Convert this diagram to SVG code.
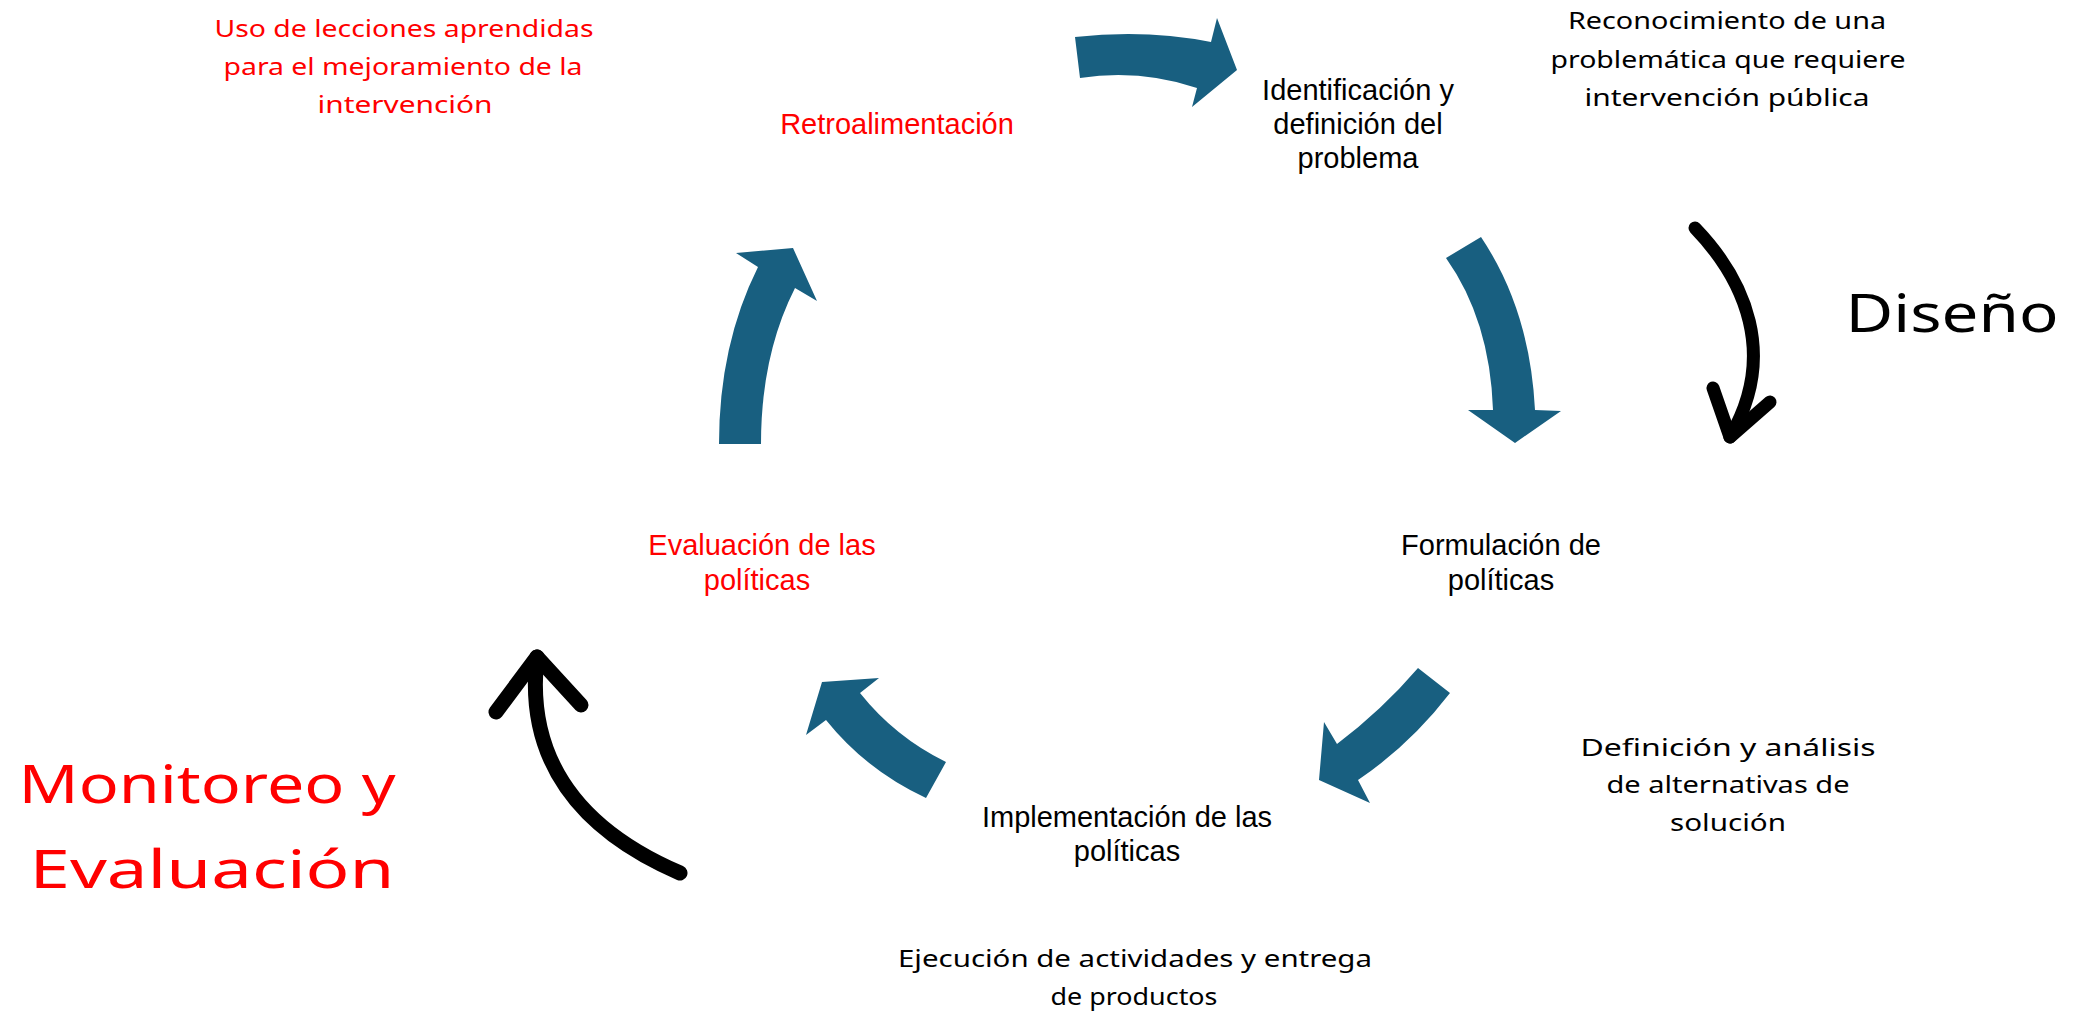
<svg xmlns="http://www.w3.org/2000/svg" width="2075" height="1017" viewBox="0 0 2075 1017">
<style>
.bg{fill:#ffffff}
.blue{fill:#185F80;stroke:none}
.blk{fill:none;stroke:#000;stroke-linecap:round;stroke-linejoin:round}
.t{font-family:"Liberation Sans","Open Sans",sans-serif;font-size:29px;text-anchor:middle;fill:#000}
.h{font-family:"Segoe Print","Comic Sans MS","Noto Sans",sans-serif;font-size:24px;text-anchor:middle;fill:#000}
.big{font-size:52px}
.red{fill:#FF0000}
</style>
<rect class="bg" x="0" y="0" width="2075" height="1017"/>
<g id="connectors">
  <path id="a-top" class="blue" d="M1075,37 Q1146,29 1211,42 L1217,18 L1237,70 L1192,107 L1197,88 Q1140,69 1080,78 Z"/>
  <path id="a-right" class="blue" d="M1446,258 L1481,237 Q1530,310 1535,410 L1561,411 L1515,443 L1468,410 L1493,410 Q1490,320 1446,258 Z"/>
  <path id="a-bottomright" class="blue" d="M1418,668 L1450,693 Q1410,745 1358,780 L1370,803 L1319,780 L1324,722 L1337,744 Q1382,710 1418,668 Z"/>
  <path id="a-bottomleft" class="blue" d="M822,682 L879,678 L860,693 Q895,737 946,762 L926,798 Q866,770 826,720 L806,735 Z"/>
  <path id="a-left" class="blue" d="M719,444 Q719,345 758,267 L736,253 L793,248 L817,301 L795,288 Q761,355 761,444 Z"/>
  <g id="a-diseno">
    <path class="blk" stroke-width="13" d="M1695,228 C1745,280 1778,355 1730,437"/>
    <path class="blk" stroke-width="13" d="M1713,388 L1730,437 L1770,402"/>
  </g>
  <g id="a-monitoreo">
    <path class="blk" stroke-width="15" d="M680,873 C580,830 525,760 537,657"/>
    <path class="blk" stroke-width="15" d="M496,712 L537,657 L581,705"/>
  </g>
</g>
<g id="n-identificacion">
  <text class="t" x="1358" y="100">Identificación y</text>
  <text class="t" x="1358" y="134">definición del</text>
  <text class="t" x="1358" y="168">problema</text>
</g>
<g id="n-formulacion">
  <text class="t" x="1501" y="555">Formulación de</text>
  <text class="t" x="1501" y="590">políticas</text>
</g>
<g id="n-implementacion">
  <text class="t" x="1127" y="827">Implementación de las</text>
  <text class="t" x="1127" y="861">políticas</text>
</g>
<g id="n-evaluacion">
  <text class="t red" x="762" y="555">Evaluación de las</text>
  <text class="t red" x="757" y="590">políticas</text>
</g>
<g id="n-retroalimentacion">
  <text class="t red" x="897" y="134">Retroalimentación</text>
</g>
<g id="note-reconocimiento">
  <text class="h" x="1727" y="29" textLength="318" lengthAdjust="spacingAndGlyphs">Reconocimiento de una</text>
  <text class="h" x="1728" y="68" textLength="355" lengthAdjust="spacingAndGlyphs">problemática que requiere</text>
  <text class="h" x="1727" y="106" textLength="285" lengthAdjust="spacingAndGlyphs">intervención pública</text>
</g>
<g id="note-definicion">
  <text class="h" x="1728" y="756" textLength="295" lengthAdjust="spacingAndGlyphs">Definición y análisis</text>
  <text class="h" x="1728" y="793" textLength="243" lengthAdjust="spacingAndGlyphs">de alternativas de</text>
  <text class="h" x="1728" y="831" textLength="116" lengthAdjust="spacingAndGlyphs">solución</text>
</g>
<g id="note-ejecucion">
  <text class="h" x="1135" y="967" textLength="474" lengthAdjust="spacingAndGlyphs">Ejecución de actividades y entrega</text>
  <text class="h" x="1134" y="1005" textLength="167" lengthAdjust="spacingAndGlyphs">de productos</text>
</g>
<g id="note-uso">
  <text class="h red" x="404" y="37" textLength="379" lengthAdjust="spacingAndGlyphs">Uso de lecciones aprendidas</text>
  <text class="h red" x="403" y="75" textLength="359" lengthAdjust="spacingAndGlyphs">para el mejoramiento de la</text>
  <text class="h red" x="405" y="113" textLength="175" lengthAdjust="spacingAndGlyphs">intervención</text>
</g>
<g id="label-diseno">
  <text class="h big" x="1952" y="332" textLength="213" lengthAdjust="spacingAndGlyphs">Diseño</text>
</g>
<g id="label-monitoreo">
  <text class="h big red" x="207" y="803" textLength="377" lengthAdjust="spacingAndGlyphs">Monitoreo y</text>
  <text class="h big red" x="212" y="888" textLength="365" lengthAdjust="spacingAndGlyphs">Evaluación</text>
</g>
</svg>
